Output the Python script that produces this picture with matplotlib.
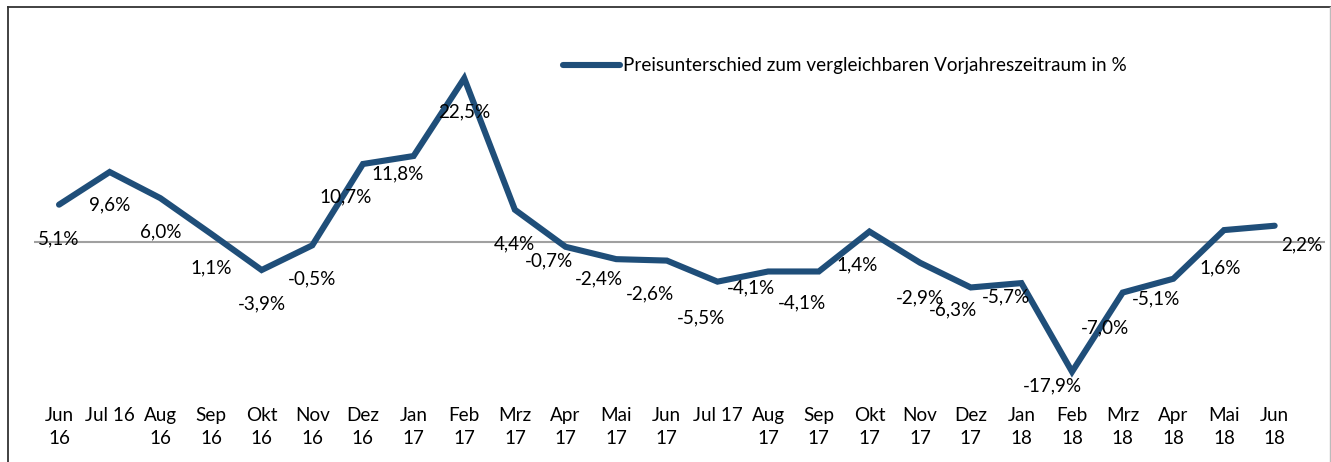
import matplotlib
matplotlib.use("Agg")
import matplotlib.pyplot as plt
from matplotlib.lines import Line2D

plt.rcParams['font.family'] = ['Lato', 'DejaVu Sans']

# ---- data ----
months = ["Jun\n16", "Jul 16", "Aug\n16", "Sep\n16", "Okt\n16", "Nov\n16", "Dez\n16",
          "Jan\n17", "Feb\n17", "Mrz\n17", "Apr\n17", "Mai\n17", "Jun\n17", "Jul 17",
          "Aug\n17", "Sep\n17", "Okt\n17", "Nov\n17", "Dez\n17", "Jan\n18", "Feb\n18",
          "Mrz\n18", "Apr\n18", "Mai\n18", "Jun\n18"]
values = [5.1, 9.6, 6.0, 1.1, -3.9, -0.5, 10.7, 11.8, 22.5, 4.4, -0.7, -2.4, -2.6,
          -5.5, -4.1, -4.1, 1.4, -2.9, -6.3, -5.7, -17.9, -7.0, -5.1, 1.6, 2.2]
series_name = "Preisunterschied zum vergleichbaren Vorjahreszeitraum in %"

# label placement (pixel offsets from each point: dx right, dy down)
label_offsets = [(0, 34), (0, 33), (0, 34), (0, 34), (0, 34), (0, 34), (-17, 33),
                 (-16, 18), (0, 34), (0, 34), (-17, 14), (-17, 20), (-17, 33),
                 (-16, 36), (-17, 16), (-17, 31), (-12, 33), (0, 35), (-18, 22),
                 (-15, 14), (-20, 14), (-18, 35), (-17, 20), (-4, 38), (27, 19)]

W, H = 1331, 462
fig = plt.figure(figsize=(W / 100, H / 100), dpi=100)
fig.patch.set_facecolor('white')

left_px, right_px = 33.7, 1325.3
top_px, bottom_px = 20, 390
ax = fig.add_axes([left_px / W, 1 - bottom_px / H, (right_px - left_px) / W,
                   (bottom_px - top_px) / H])
ax.set_facecolor('none')

x = list(range(len(values)))
line_color = '#1F4E79'
fs = 13.6

ax.axhline(0, color='#A0A0A0', lw=1.5, zorder=1)
ax.plot(x, values, color=line_color, lw=4.4, solid_capstyle='round',
        solid_joinstyle='miter', zorder=2, label=series_name)

for xi, v, (dx, dy) in zip(x, values, label_offsets):
    txt = f"{v:.1f}".replace('.', ',') + '%'
    ax.annotate(txt, (xi, v), xytext=(dx, -dy), textcoords='offset pixels',
                ha='center', va='center', fontsize=fs, color='black', zorder=5)

ax.set_xlim(-0.5, 25.0)
ax.set_ylim(-20.42, 30.53)
ax.set_xticks(x)
ax.set_xticklabels(months, fontsize=fs, linespacing=1.4)
ax.tick_params(axis='x', length=0, pad=12.5)
ax.set_yticks([])
for s in ax.spines.values():
    s.set_visible(False)

leg = ax.legend(loc='center left', bbox_to_anchor=(563 / W, 1 - 66 / H),
                bbox_transform=fig.transFigure, frameon=False, fontsize=fs,
                handlelength=3.0, handletextpad=0.2, borderpad=0, borderaxespad=0)

# chart frame
fig.add_artist(Line2D([8 / W, 1], [1 - 7 / H, 1 - 7 / H], color='#333333', lw=1.3,
                      transform=fig.transFigure))
fig.add_artist(Line2D([8 / W, 8 / W], [0, 1 - 7 / H], color='#333333', lw=1.3,
                      transform=fig.transFigure))
fig.add_artist(Line2D([1330 / W, 1330 / W], [0, 1 - 7 / H], color='#BBBBBB', lw=1.0,
                      transform=fig.transFigure))

fig.savefig('out.png', dpi=100)
